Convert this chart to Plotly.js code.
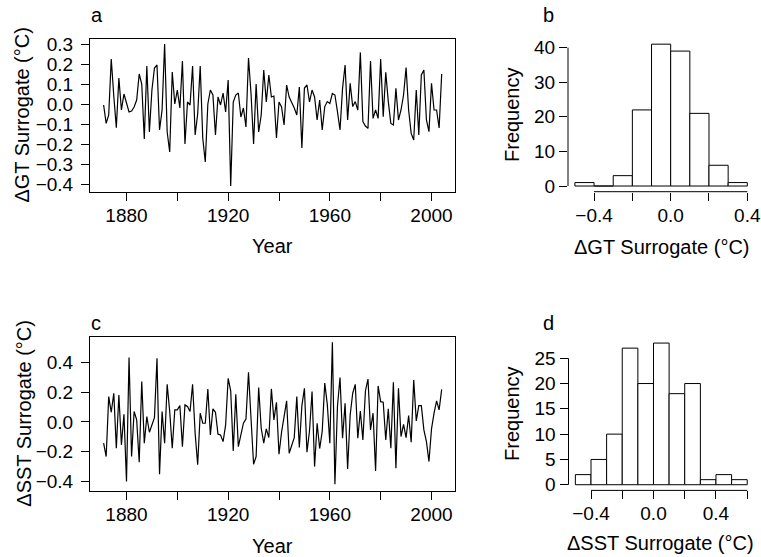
<!DOCTYPE html>
<html>
<head>
<meta charset="utf-8">
<script src="https://cdn.plot.ly/plotly-3.0.1.min.js"></script>
<style>html,body{margin:0;padding:0;background:#fff;}#chart{width:761px;height:557px;}</style>
</head>
<body>
<div id="chart"></div>
<script>
// ---------------- data ----------------
var startYear = 1871;
var gtSurrogate = [
 -0.005,-0.097,-0.055,0.225,0.04,-0.118,0.13,-0.03,0.05,0.01,
 -0.04,-0.035,-0.015,0.02,0.15,0.10,-0.175,0.19,-0.14,0.07,
 0.18,0.195,-0.13,-0.03,0.30,-0.14,-0.24,0.16,0.00,0.07,
 -0.02,0.215,-0.20,0.01,-0.005,0.19,-0.155,-0.05,0.19,-0.17,
 -0.29,0.00,0.07,0.045,-0.155,0.035,-0.005,0.055,-0.04,0.12,
 -0.41,0.01,0.045,0.055,-0.065,-0.02,-0.115,0.23,0.05,-0.20,
 0.10,-0.14,-0.055,0.17,0.01,0.145,0.035,0.04,-0.17,0.01,
 -0.015,-0.105,0.095,0.035,0.01,-0.02,-0.055,0.085,-0.22,0.08,
 0.095,0.01,0.07,0.035,-0.08,0.02,-0.13,-0.013,0.012,0.003,
 0.053,0.045,-0.038,-0.13,0.078,0.195,-0.08,0.103,-0.013,0.012,
 -0.03,0.258,-0.088,-0.11,-0.122,0.215,-0.072,-0.03,-0.072,0.225,
 -0.063,0.158,0.012,-0.097,-0.105,0.078,-0.08,-0.03,0.045,0.182,
 -0.03,-0.147,-0.18,0.07,-0.155,0.145,0.17,-0.08,-0.138,0.103,
 -0.03,-0.03,-0.12,0.15
];
var sstSurrogate = [
 -0.144,-0.234,0.171,0.065,0.194,-0.178,0.182,-0.155,0.052,-0.403,
 0.435,-0.234,0.07,0.014,-0.273,0.273,-0.144,0.036,-0.07,-0.02,
 0.029,0.43,-0.354,0.07,-0.144,0.254,0.07,-0.178,0.081,0.081,
 0.11,-0.167,0.115,0.104,0.07,0.254,-0.077,-0.29,0.059,-0.009,
 -0.009,0.223,-0.088,0.088,0.065,-0.083,-0.088,-0.133,-0.02,0.295,
 0.21,-0.196,0.187,-0.167,-0.077,-0.009,0.02,0.336,0.02,-0.286,
 -0.234,0.232,-0.043,-0.144,-0.047,-0.106,0.223,0.014,0.133,-0.218,
 -0.07,0.025,0.142,-0.212,-0.155,-0.106,0.171,-0.173,0.11,0.227,
 -0.205,-0.06,0.205,-0.302,-0.009,-0.18,-0.065,0.262,0.119,-0.144,
 0.538,-0.421,0.104,0.30,-0.110,0.126,-0.318,0.047,0.194,0.254,
 -0.110,0.074,-0.122,0.209,0.29,-0.054,0.059,-0.331,0.243,0.137,
 0.133,-0.122,0.088,-0.178,0.268,-0.313,0.227,-0.099,-0.016,-0.106,
 0.043,-0.137,0.284,0.007,0.110,0.110,-0.054,-0.133,-0.268,-0.047,
 0.059,0.142,0.081,0.22
];
var gtBinEdges = [-0.5,-0.4,-0.3,-0.2,-0.1,0.0,0.1,0.2,0.3,0.4];
var gtCounts   = [1,0,3,22,41,39,21,6,1];
var sstBinEdges = [-0.5,-0.4,-0.3,-0.2,-0.1,0.0,0.1,0.2,0.3,0.4,0.5,0.6];
var sstCounts   = [2,5,10,27,20,28,18,20,1,2,1];

// labelled ticks and the unlabelled tick step between them
var yearTicks = [1880,1920,1960,2000];
var yearMinorStep = 20;
var gtYTicks = [-0.4,-0.3,-0.2,-0.1,0.0,0.1,0.2,0.3];
var sstYTicks = [-0.4,-0.2,0.0,0.2,0.4];
var histGTxTicks = [-0.4,0.0,0.4];
var histGTxMinorStep = 0.2;
var histGTyTicks = [0,10,20,30,40];
var histSSTxTicks = [-0.4,0.0,0.4];
var histSSTxEnd = 0.6;
var histSSTxMinorStep = 0.2;
var histSSTyTicks = [0,5,10,15,20,25];

// ---------------- build ----------------
var years = gtSurrogate.map(function(_, i){ return startYear + i; });
function centers(edges){ var c=[]; for(var i=0;i<edges.length-1;i++) c.push((edges[i]+edges[i+1])/2); return c; }
function widths(edges){ var w=[]; for(var i=0;i<edges.length-1;i++) w.push(edges[i+1]-edges[i]); return w; }

var W = 761, H = 557;
function px(x){ return x / W; }
function py(y){ return 1 - y / H; }

var FONT = 'Liberation Sans, Arial, Helvetica, sans-serif';
var FS = 19;
var TFS = 20;

var traces = [
  {x: years, y: gtSurrogate, type:'scatter', mode:'lines', line:{color:'black', width:1.2}, xaxis:'x', yaxis:'y'},
  {x: centers(gtBinEdges), y: gtCounts, width: widths(gtBinEdges), type:'bar', marker:{color:'white', line:{color:'black', width:1}}, xaxis:'x2', yaxis:'y2'},
  {x: years, y: sstSurrogate, type:'scatter', mode:'lines', line:{color:'black', width:1.2}, xaxis:'x3', yaxis:'y3'},
  {x: centers(sstBinEdges), y: sstCounts, width: widths(sstBinEdges), type:'bar', marker:{color:'white', line:{color:'black', width:1}}, xaxis:'x4', yaxis:'y4'}
];

function minorCfg(tick0, step){
  return {tickmode:'linear', tick0: tick0, dtick: step, ticks:'outside', ticklen:8, tickwidth:1, tickcolor:'black', showgrid:false};
}
function tsX(domain, anchor){
  return {domain: domain, anchor: anchor, range:[1865.64, 2009.36], tickmode:'array', tickvals: yearTicks, ticktext: yearTicks.map(String),
    minor: minorCfg(yearTicks[0], yearMinorStep),
    ticks:'outside', ticklen:8, tickwidth:1, tickcolor:'black', showline:true, mirror:true, linecolor:'black', linewidth:1,
    showgrid:false, zeroline:false, ticklabelstandoff:-2, tickfont:{family:FONT, size:FS, color:'black'}, fixedrange:true};
}
function tsY(domain, anchor, range, ticks){
  return {domain: domain, anchor: anchor, range: range, tickmode:'array', tickvals: ticks, tickformat:'.1f',
    ticks:'outside', ticklen:8, tickwidth:1, tickcolor:'black', showline:true, mirror:true, linecolor:'black', linewidth:1,
    showgrid:false, zeroline:false, ticklabelstandoff:4, tickfont:{family:FONT, size:FS, color:'black'}, fixedrange:true};
}
function hX(domain, anchor, range, ticks, step){
  return {domain: domain, anchor: anchor, range: range, tickmode:'array', tickvals: ticks, tickformat:'.1f',
    minor: minorCfg(ticks[0], step),
    ticks:'outside', ticklen:8, tickwidth:1, tickcolor:'black', showline:false, showgrid:false, zeroline:false,
    ticklabelstandoff:-2, tickfont:{family:FONT, size:FS, color:'black'}, fixedrange:true};
}
function hY(domain, anchor, range, ticks){
  return {domain: domain, anchor: anchor, range: range, tickmode:'array', tickvals: ticks,
    ticks:'outside', ticklen:8, tickwidth:1, tickcolor:'black', showline:false, showgrid:false, zeroline:false,
    tickfont:{family:FONT, size:FS, color:'black'}, fixedrange:true};
}

function ann(text, x, y, angle){
  var a = {text:text, x:px(x), y:py(y), xref:'paper', yref:'paper', showarrow:false, xanchor:'center', yanchor:'middle', font:{size:TFS}};
  if (angle) a.textangle = angle;
  return a;
}

var layout = {
  width: W, height: H, margin:{l:0, r:0, t:0, b:0}, paper_bgcolor:'white', plot_bgcolor:'white',
  showlegend:false, font:{family:FONT, size:FS, color:'black'}, bargap:0,
  xaxis:  tsX([px(90), px(455.3)], 'y'),
  yaxis:  tsY([py(192), py(39.3)], 'x', [-0.44, 0.3235], gtYTicks),
  xaxis2: hX([px(568), px(754.2)], 'y2', [-0.536, 0.436], histGTxTicks, histGTxMinorStep),
  yaxis2: hY([py(191.7), py(38.5)], 'x2', [-1.64, 42.64], histGTyTicks),
  xaxis3: tsX([px(90), px(455.3)], 'y3'),
  yaxis3: tsY([py(490.7), py(336.7)], 'x3', [-0.465, 0.576], sstYTicks),
  xaxis4: hX([px(568.5), px(754.1)], 'y4', [-0.544, 0.644], histSSTxTicks, histSSTxMinorStep),
  yaxis4: hY([py(490.4), py(337.4)], 'x4', [-1.12, 29.12], histSSTyTicks),
  shapes: [
    {type:'line', xref:'x2', yref:'y2 domain', x0: histGTxTicks[0], x1: histGTxTicks[histGTxTicks.length-1], y0:0, y1:0, line:{color:'black', width:1}},
    {type:'line', xref:'x2 domain', yref:'y2', x0:0, x1:0, y0: histGTyTicks[0], y1: histGTyTicks[histGTyTicks.length-1], line:{color:'black', width:1}},
    {type:'line', xref:'x4', yref:'y4 domain', x0: histSSTxTicks[0], x1: histSSTxEnd, y0:0, y1:0, line:{color:'black', width:1}},
    {type:'line', xref:'x4 domain', yref:'y4', x0:0, x1:0, y0: histSSTyTicks[0], y1: histSSTyTicks[histSSTyTicks.length-1], line:{color:'black', width:1}}
  ],
  annotations: [
    ann('a', 96.7, 15), ann('b', 548, 15), ann('c', 96, 322.5), ann('d', 548, 322.5),
    ann('Year', 272.6, 246), ann('Year', 272.6, 546),
    ann('\u0394GT Surrogate (\u00B0C)', 22, 115.6, -90),
    ann('\u0394SST Surrogate (\u00B0C)', 24, 413.7, -90),
    ann('\u0394GT Surrogate (\u00B0C)', 661.5, 246.7),
    ann('\u0394SST Surrogate (\u00B0C)', 660, 542.7),
    ann('Frequency', 512, 115, -90),
    ann('Frequency', 512, 413.9, -90)
  ]
};

Plotly.newPlot('chart', traces, layout, {displayModeBar:false, staticPlot:true});
</script>
</body>
</html>
